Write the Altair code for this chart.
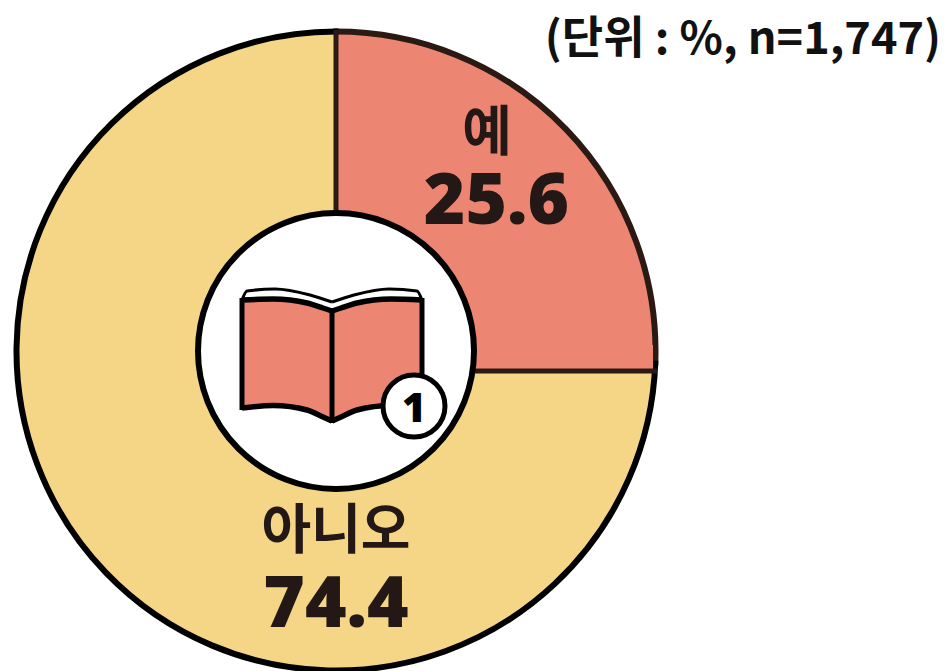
import altair as alt
import pandas as pd

SALMON = "#EC8571"
YELLOW = "#F4D686"
INK = "#231815"

# chart data
labels = ["예", "아니오"]
values = [25.6, 74.4]
fills = [SALMON, YELLOW]
rims = ["#2B1A14", "#000000"]
value_text = ["25.6", "74.4"]
unit_note = "(단위 : %, n=1,747)"

# centre of the ring on the shared pixel-like scale
cx, cy = 336, 351

# book icon outline
left_x = [242, 273, 307, 323, 332]
left_top = [300, 299, 303, 308, 311]
left_bot = [408, 405.5, 410, 417, 421]
right_x = [332, 341, 357, 391, 422]
right_top = [311, 308, 303, 299, 300]
right_bot = [421, 417, 410, 405.5, 408]
cover_left_x = [242, 247, 275, 310, 332]
cover_left_y = [300, 291, 289, 295, 302]
cover_right_x = [332, 354, 389, 417, 422]
cover_right_y = [302, 295, 289, 291, 300]

W, H = 930, 663
X = alt.Scale(domain=[8, 8 + W], range=[0, W])
Y = alt.Scale(domain=[8, 8 + H], range=[0, H])
ax = alt.X("x:Q", scale=X, axis=None)
ay = alt.Y("y:Q", scale=Y, axis=None)

ring = pd.DataFrame({"label": labels, "value": values, "fill": fills, "rim": rims,
                     "order": [0, 1], "x": [cx, cx], "y": [cy, cy]})
enc = dict(x=ax, y=ay, theta=alt.Theta("value:Q", stack=True), order=alt.Order("order:Q"))

arcs = alt.Chart(ring).mark_arc(innerRadius=130, outerRadius=320).encode(
    color=alt.Color("fill:N", scale=None), **enc)
rim = alt.Chart(ring).mark_arc(innerRadius=319, outerRadius=320, fillOpacity=0, strokeWidth=5).encode(
    stroke=alt.Stroke("rim:N", scale=None), **enc)
seam_fill = alt.Chart(pd.DataFrame({"x": [470], "x2": [653], "y": [345], "y2": [371]})).mark_rect(color=SALMON).encode(
    x=ax, x2="x2:Q", y=ay, y2="y2:Q")
seams_v = alt.Chart(pd.DataFrame({"x": [cx], "y": [30], "y2": [212]})).mark_rule(color="#2B1A14", strokeWidth=5).encode(
    x=ax, y=ay, y2="y2:Q")
seams_h = alt.Chart(pd.DataFrame({"x": [474], "x2": [657], "y": [371]})).mark_rule(color="#2B1A14", strokeWidth=5).encode(
    x=ax, x2="x2:Q", y=ay)
hole = alt.Chart(pd.DataFrame({"x": [cx], "y": [cy]})).mark_point(
    filled=True, fill="white", stroke="black", strokeWidth=6, opacity=1, size=(2 * 138) ** 2
).encode(x=ax, y=ay)

pages = pd.DataFrame({"x": left_x + right_x, "y": left_top + right_top, "y2": left_bot + right_bot,
                      "p": ["l"] * 5 + ["r"] * 5})
page_area = alt.Chart(pages).mark_area(color=SALMON, interpolate="monotone").encode(
    x=ax, y=ay, y2="y2:Q", detail="p:N")

curves = []
for name, xs, ys in [("a", left_x, left_top), ("b", left_x, left_bot),
                     ("c", right_x, right_top), ("d", right_x, right_bot)]:
    curves.append(pd.DataFrame({"x": xs, "y": ys, "p": name}))
thick = alt.Chart(pd.concat(curves)).mark_line(color="black", strokeWidth=5.5, interpolate="monotone").encode(
    x=ax, y=ay, detail="p:N", order="x:Q")
covers = pd.concat([pd.DataFrame({"x": cover_left_x, "y": cover_left_y, "p": "e"}),
                    pd.DataFrame({"x": cover_right_x, "y": cover_right_y, "p": "f"})])
thin = alt.Chart(covers).mark_line(color="black", strokeWidth=3, interpolate="monotone").encode(
    x=ax, y=ay, detail="p:N", order="x:Q")
edges = alt.Chart(pd.DataFrame({"x": [242, 332, 422], "y": [298, 309, 298], "y2": [410, 423, 410]})).mark_rule(
    color="black", strokeWidth=5).encode(x=ax, y=ay, y2="y2:Q")
badge = alt.Chart(pd.DataFrame({"x": [414], "y": [406]})).mark_point(
    filled=True, fill="white", stroke="black", strokeWidth=5, opacity=1, size=(2 * 31) ** 2
).encode(x=ax, y=ay)
badge_text = alt.Chart(pd.DataFrame({"x": [414], "y": [422], "t": ["1"]})).mark_text(
    font="Open Sans", fontWeight=800, fontSize=41, color="black", align="center", baseline="alphabetic"
).encode(x=ax, y=ay, text="t:N")

names = alt.Chart(pd.DataFrame({"x": [487, 336], "y": [151, 549], "t": labels})).mark_text(
    font="Noto Sans CJK KR", fontWeight=700, fontSize=54, color=INK, align="center", baseline="alphabetic"
).encode(x=ax, y=ay, text="t:N")
nums = alt.Chart(pd.DataFrame({"x": [496.5, 336], "y": [224, 627], "t": value_text})).mark_text(
    font="Open Sans", fontWeight=800, fontSize=71, color=INK, align="center", baseline="alphabetic"
).encode(x=ax, y=ay, text="t:N")
note = alt.Chart(pd.DataFrame({"x": [941], "y": [54], "t": [unit_note]})).mark_text(
    font="Noto Sans CJK KR", fontWeight=700, fontSize=45, color="#111111", align="right", baseline="alphabetic"
).encode(x=ax, y=ay, text="t:N")

chart = alt.layer(arcs, rim, seam_fill, seams_v, seams_h, hole, page_area, thick, thin, edges,
                  badge, badge_text, names, nums, note).properties(
    width=W, height=H, padding=0, autosize=alt.AutoSizeParams(type="none")
).configure_view(stroke=None)

chart.save("out.html", embed_options={"renderer": "svg", "actions": False})
